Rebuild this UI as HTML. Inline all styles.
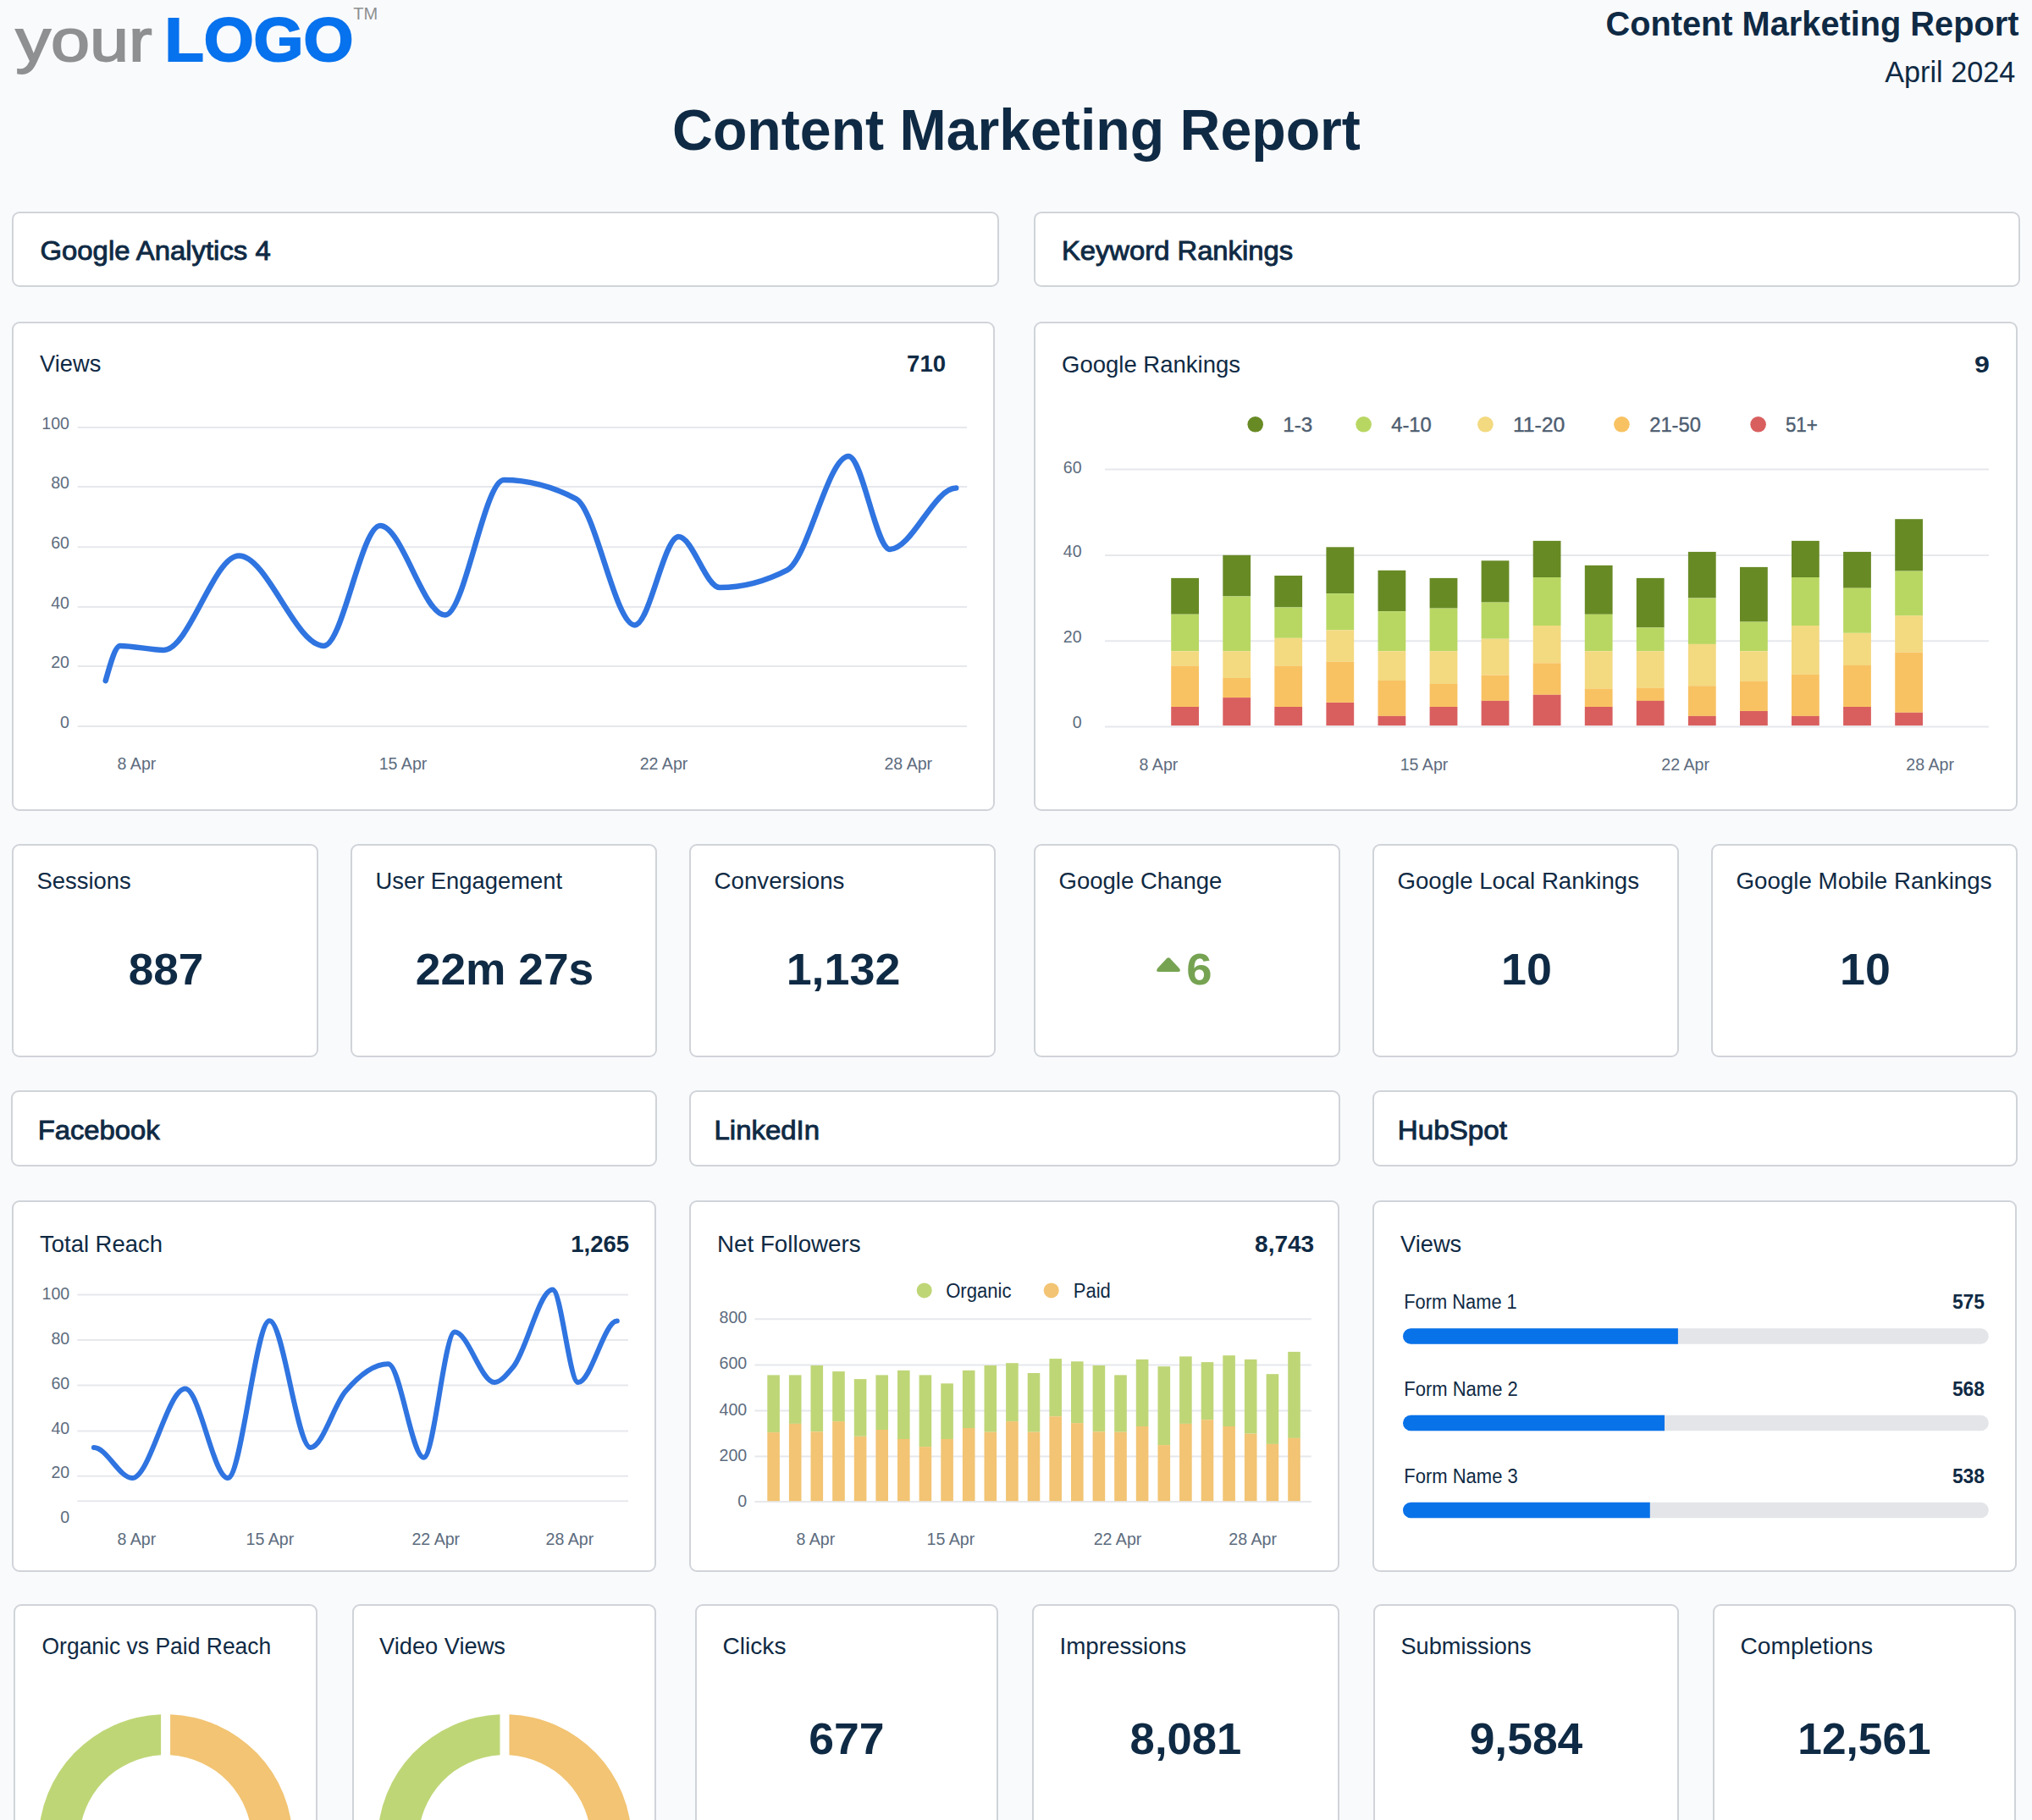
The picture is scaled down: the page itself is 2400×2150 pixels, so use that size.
<!DOCTYPE html>
<html><head><meta charset="utf-8"><style>
html,body{margin:0;padding:0;}
body{width:2400px;height:2150px;overflow:hidden;background:#f9fafc;position:relative;font-family:"Liberation Sans",sans-serif;}
.c{position:absolute;box-sizing:border-box;background:#fff;border:2px solid #d0d4d9;border-radius:9px;}
svg{position:absolute;left:0;top:0;}
svg text{font-family:"Liberation Sans",sans-serif;}
</style></head><body>
<div class="c" style="left:14px;top:250px;width:1166px;height:89px"></div><div class="c" style="left:1221px;top:250px;width:1165px;height:89px"></div><div class="c" style="left:14px;top:380px;width:1161px;height:578px"></div><div class="c" style="left:1221px;top:380px;width:1162px;height:578px"></div><div class="c" style="left:14px;top:997px;width:362px;height:252px"></div><div class="c" style="left:414px;top:997px;width:362px;height:252px"></div><div class="c" style="left:814px;top:997px;width:362px;height:252px"></div><div class="c" style="left:1221px;top:997px;width:362px;height:252px"></div><div class="c" style="left:1621px;top:997px;width:362px;height:252px"></div><div class="c" style="left:2021px;top:997px;width:362px;height:252px"></div><div class="c" style="left:13px;top:1288px;width:763px;height:90px"></div><div class="c" style="left:814px;top:1288px;width:769px;height:90px"></div><div class="c" style="left:1621px;top:1288px;width:762px;height:90px"></div><div class="c" style="left:14px;top:1418px;width:761px;height:439px"></div><div class="c" style="left:814px;top:1418px;width:768px;height:439px"></div><div class="c" style="left:1621px;top:1418px;width:761px;height:439px"></div><div class="c" style="left:16px;top:1895px;width:359px;height:305px"></div><div class="c" style="left:416px;top:1895px;width:359px;height:305px"></div><div class="c" style="left:821px;top:1895px;width:358px;height:305px"></div><div class="c" style="left:1219px;top:1895px;width:363px;height:305px"></div><div class="c" style="left:1622px;top:1895px;width:361px;height:305px"></div><div class="c" style="left:2023px;top:1895px;width:358px;height:305px"></div>
<svg width="2400" height="2150" viewBox="0 0 2400 2150">
<text x="18.5" y="72.0" font-size="71" font-weight="normal" fill="#8e9091" text-anchor="start" textLength="161.0" lengthAdjust="spacingAndGlyphs" stroke="#8e9091" stroke-width="1.8">your</text>
<text x="194.4" y="72.2" font-size="73" font-weight="bold" fill="#0772ed" text-anchor="start" textLength="223.1" lengthAdjust="spacingAndGlyphs" stroke="#0772ed" stroke-width="2">LOGO</text>
<text x="417.3" y="23.0" font-size="20" font-weight="normal" fill="#8e9091" text-anchor="start" textLength="28.9" lengthAdjust="spacingAndGlyphs">TM</text>
<text x="2384.4" y="42.2" font-size="41" font-weight="bold" fill="#0f2a44" text-anchor="end" textLength="487.9" lengthAdjust="spacingAndGlyphs">Content Marketing Report</text>
<text x="2380.2" y="96.7" font-size="34.4" font-weight="normal" fill="#0f2a44" text-anchor="end" textLength="153.9" lengthAdjust="spacingAndGlyphs">April 2024</text>
<text x="794.1" y="176.5" font-size="68" font-weight="bold" fill="#0f2a44" text-anchor="start" textLength="812.8" lengthAdjust="spacingAndGlyphs">Content Marketing Report</text>
<text x="47.5" y="307.0" font-size="31.7" font-weight="normal" fill="#0f2a44" text-anchor="start" textLength="272.2" lengthAdjust="spacingAndGlyphs" stroke="#0f2a44" stroke-width="0.9">Google Analytics 4</text>
<text x="1253.9" y="307.0" font-size="31.7" font-weight="normal" fill="#0f2a44" text-anchor="start" textLength="273.2" lengthAdjust="spacingAndGlyphs" stroke="#0f2a44" stroke-width="0.9">Keyword Rankings</text>
<text x="44.7" y="1346.3" font-size="31.7" font-weight="normal" fill="#0f2a44" text-anchor="start" textLength="144.0" lengthAdjust="spacingAndGlyphs" stroke="#0f2a44" stroke-width="0.9">Facebook</text>
<text x="843.5" y="1346.3" font-size="31.7" font-weight="normal" fill="#0f2a44" text-anchor="start" textLength="124.6" lengthAdjust="spacingAndGlyphs" stroke="#0f2a44" stroke-width="0.9">LinkedIn</text>
<text x="1650.8" y="1346.3" font-size="31.7" font-weight="normal" fill="#0f2a44" text-anchor="start" textLength="129.1" lengthAdjust="spacingAndGlyphs" stroke="#0f2a44" stroke-width="0.9">HubSpot</text>
<text x="47.1" y="439.1" font-size="28" font-weight="normal" fill="#0f2a44" text-anchor="start" textLength="72.2" lengthAdjust="spacingAndGlyphs">Views</text>
<text x="1117.0" y="439.0" font-size="27.5" font-weight="bold" fill="#0f2a44" text-anchor="end" textLength="45.9" lengthAdjust="spacingAndGlyphs">710</text>
<line x1="91.7" y1="858" x2="1142" y2="858" stroke="#e6e8ec" stroke-width="2"/>
<text x="82.0" y="859.5" font-size="19.6" font-weight="normal" fill="#5d6c7e" text-anchor="end">0</text>
<line x1="91.7" y1="787.1" x2="1142" y2="787.1" stroke="#e6e8ec" stroke-width="2"/>
<text x="82.0" y="788.6" font-size="19.6" font-weight="normal" fill="#5d6c7e" text-anchor="end">20</text>
<line x1="91.7" y1="717.1" x2="1142" y2="717.1" stroke="#e6e8ec" stroke-width="2"/>
<text x="82.0" y="718.6" font-size="19.6" font-weight="normal" fill="#5d6c7e" text-anchor="end">40</text>
<line x1="91.7" y1="646.2" x2="1142" y2="646.2" stroke="#e6e8ec" stroke-width="2"/>
<text x="82.0" y="647.7" font-size="19.6" font-weight="normal" fill="#5d6c7e" text-anchor="end">60</text>
<line x1="91.7" y1="575.1" x2="1142" y2="575.1" stroke="#e6e8ec" stroke-width="2"/>
<text x="82.0" y="576.6" font-size="19.6" font-weight="normal" fill="#5d6c7e" text-anchor="end">80</text>
<line x1="91.7" y1="505.1" x2="1142" y2="505.1" stroke="#e6e8ec" stroke-width="2"/>
<text x="82.0" y="506.6" font-size="19.6" font-weight="normal" fill="#5d6c7e" text-anchor="end">100</text>
<text x="161.5" y="908.7" font-size="19.6" font-weight="normal" fill="#5d6c7e" text-anchor="middle">8 Apr</text>
<text x="476.0" y="908.7" font-size="19.6" font-weight="normal" fill="#5d6c7e" text-anchor="middle">15 Apr</text>
<text x="784.0" y="908.7" font-size="19.6" font-weight="normal" fill="#5d6c7e" text-anchor="middle">22 Apr</text>
<text x="1072.8" y="908.7" font-size="19.6" font-weight="normal" fill="#5d6c7e" text-anchor="middle">28 Apr</text>
<path d="M124.7,804.2 C130.4,783.5 136.2,762.9 141.9,762.9 C159.1,762.9 176.3,767.9 193.5,767.9 C223.0,767.9 252.6,656.6 282.1,656.6 C315.6,656.6 349.0,762.9 382.5,762.9 C404.7,762.9 426.8,621.1 449.0,621.1 C474.6,621.1 500.1,726.6 525.7,726.6 C548.8,726.6 572.0,567.1 595.1,567.1 C623.5,567.1 652.0,574.5 680.4,589.3 C703.5,601.3 726.7,738.4 749.8,738.4 C767.0,738.4 784.3,634.1 801.5,634.1 C817.7,634.1 834.0,694.1 850.2,694.1 C876.8,694.1 903.3,687.2 929.9,673.4 C954.0,660.9 978.1,539.0 1002.2,539.0 C1018.5,539.0 1034.7,648.9 1051.0,648.9 C1077.1,648.9 1103.1,576.6 1129.2,576.6" fill="none" stroke="#2f74e0" stroke-width="6.5" stroke-linecap="round" stroke-linejoin="round"/>
<text x="1254.0" y="439.5" font-size="28" font-weight="normal" fill="#0f2a44" text-anchor="start" textLength="211.0" lengthAdjust="spacingAndGlyphs">Google Rankings</text>
<text x="2350.0" y="439.5" font-size="27.5" font-weight="bold" fill="#0f2a44" text-anchor="end" textLength="17.9" lengthAdjust="spacingAndGlyphs">9</text>
<line x1="1305" y1="858.5" x2="2349" y2="858.5" stroke="#e6e8ec" stroke-width="2"/>
<text x="1277.6" y="859.5" font-size="19.6" font-weight="normal" fill="#5d6c7e" text-anchor="end">0</text>
<line x1="1305" y1="757.2" x2="2349" y2="757.2" stroke="#e6e8ec" stroke-width="2"/>
<text x="1277.6" y="758.8" font-size="19.6" font-weight="normal" fill="#5d6c7e" text-anchor="end">20</text>
<line x1="1305" y1="655.9" x2="2349" y2="655.9" stroke="#e6e8ec" stroke-width="2"/>
<text x="1277.6" y="657.8" font-size="19.6" font-weight="normal" fill="#5d6c7e" text-anchor="end">40</text>
<line x1="1305" y1="554.6" x2="2349" y2="554.6" stroke="#e6e8ec" stroke-width="2"/>
<text x="1277.6" y="558.8" font-size="19.6" font-weight="normal" fill="#5d6c7e" text-anchor="end">60</text>
<text x="1368.5" y="909.5" font-size="19.6" font-weight="normal" fill="#5d6c7e" text-anchor="middle">8 Apr</text>
<text x="1682.0" y="909.5" font-size="19.6" font-weight="normal" fill="#5d6c7e" text-anchor="middle">15 Apr</text>
<text x="1990.6" y="909.5" font-size="19.6" font-weight="normal" fill="#5d6c7e" text-anchor="middle">22 Apr</text>
<text x="2279.7" y="909.5" font-size="19.6" font-weight="normal" fill="#5d6c7e" text-anchor="middle">28 Apr</text>
<circle cx="1482.7" cy="501.3" r="9.3" fill="#688a25"/>
<text x="1515.2" y="509.5" font-size="23.5" font-weight="normal" fill="#4e5e71" text-anchor="start" textLength="35.0" lengthAdjust="spacingAndGlyphs" stroke="#4e5e71" stroke-width="0.4">1-3</text>
<circle cx="1610.6" cy="501.3" r="9.3" fill="#b8d762"/>
<text x="1643.2" y="509.5" font-size="23.5" font-weight="normal" fill="#4e5e71" text-anchor="start" textLength="47.6" lengthAdjust="spacingAndGlyphs" stroke="#4e5e71" stroke-width="0.4">4-10</text>
<circle cx="1754.4" cy="501.3" r="9.3" fill="#f3d980"/>
<text x="1786.9" y="509.5" font-size="23.5" font-weight="normal" fill="#4e5e71" text-anchor="start" textLength="61.5" lengthAdjust="spacingAndGlyphs" stroke="#4e5e71" stroke-width="0.4">11-20</text>
<circle cx="1915.4" cy="501.3" r="9.3" fill="#f8c262"/>
<text x="1948.2" y="509.5" font-size="23.5" font-weight="normal" fill="#4e5e71" text-anchor="start" textLength="60.7" lengthAdjust="spacingAndGlyphs" stroke="#4e5e71" stroke-width="0.4">21-50</text>
<circle cx="2076.6" cy="501.3" r="9.3" fill="#d95f5f"/>
<text x="2108.9" y="509.5" font-size="23.5" font-weight="normal" fill="#4e5e71" text-anchor="start" textLength="37.9" lengthAdjust="spacingAndGlyphs" stroke="#4e5e71" stroke-width="0.4">51+</text>
<rect x="1383.2" y="682.9" width="32.8" height="42.8" fill="#688a25"/>
<rect x="1383.2" y="725.7" width="32.8" height="43.4" fill="#b8d762"/>
<rect x="1383.2" y="769.2" width="32.8" height="17.7" fill="#f3d980"/>
<rect x="1383.2" y="786.9" width="32.8" height="48.1" fill="#f8c262"/>
<rect x="1383.2" y="835.0" width="32.8" height="22.1" fill="#d95f5f"/>
<rect x="1444.3" y="655.8" width="32.8" height="48.7" fill="#688a25"/>
<rect x="1444.3" y="704.5" width="32.8" height="64.7" fill="#b8d762"/>
<rect x="1444.3" y="769.2" width="32.8" height="31.9" fill="#f3d980"/>
<rect x="1444.3" y="801.0" width="32.8" height="23.0" fill="#f8c262"/>
<rect x="1444.3" y="824.1" width="32.8" height="33.0" fill="#d95f5f"/>
<rect x="1505.3" y="680.0" width="32.8" height="37.5" fill="#688a25"/>
<rect x="1505.3" y="717.5" width="32.8" height="36.3" fill="#b8d762"/>
<rect x="1505.3" y="753.8" width="32.8" height="33.1" fill="#f3d980"/>
<rect x="1505.3" y="786.9" width="32.8" height="48.1" fill="#f8c262"/>
<rect x="1505.3" y="835.0" width="32.8" height="22.1" fill="#d95f5f"/>
<rect x="1566.4" y="646.3" width="32.8" height="54.9" fill="#688a25"/>
<rect x="1566.4" y="701.2" width="32.8" height="43.1" fill="#b8d762"/>
<rect x="1566.4" y="744.3" width="32.8" height="37.5" fill="#f3d980"/>
<rect x="1566.4" y="781.8" width="32.8" height="48.1" fill="#f8c262"/>
<rect x="1566.4" y="830.0" width="32.8" height="27.1" fill="#d95f5f"/>
<rect x="1627.5" y="673.8" width="32.8" height="48.4" fill="#688a25"/>
<rect x="1627.5" y="722.2" width="32.8" height="46.9" fill="#b8d762"/>
<rect x="1627.5" y="769.2" width="32.8" height="34.8" fill="#f3d980"/>
<rect x="1627.5" y="804.0" width="32.8" height="41.9" fill="#f8c262"/>
<rect x="1627.5" y="845.9" width="32.8" height="11.2" fill="#d95f5f"/>
<rect x="1688.6" y="682.9" width="32.8" height="35.7" fill="#688a25"/>
<rect x="1688.6" y="718.7" width="32.8" height="50.5" fill="#b8d762"/>
<rect x="1688.6" y="769.2" width="32.8" height="38.7" fill="#f3d980"/>
<rect x="1688.6" y="807.8" width="32.8" height="27.2" fill="#f8c262"/>
<rect x="1688.6" y="835.0" width="32.8" height="22.1" fill="#d95f5f"/>
<rect x="1749.6" y="662.3" width="32.8" height="49.3" fill="#688a25"/>
<rect x="1749.6" y="711.6" width="32.8" height="43.1" fill="#b8d762"/>
<rect x="1749.6" y="754.7" width="32.8" height="42.8" fill="#f3d980"/>
<rect x="1749.6" y="797.5" width="32.8" height="30.4" fill="#f8c262"/>
<rect x="1749.6" y="827.9" width="32.8" height="29.2" fill="#d95f5f"/>
<rect x="1810.7" y="638.9" width="32.8" height="43.1" fill="#688a25"/>
<rect x="1810.7" y="682.0" width="32.8" height="57.0" fill="#b8d762"/>
<rect x="1810.7" y="739.0" width="32.8" height="44.3" fill="#f3d980"/>
<rect x="1810.7" y="783.3" width="32.8" height="37.5" fill="#f8c262"/>
<rect x="1810.7" y="820.8" width="32.8" height="36.3" fill="#d95f5f"/>
<rect x="1871.8" y="667.9" width="32.8" height="57.9" fill="#688a25"/>
<rect x="1871.8" y="725.7" width="32.8" height="43.4" fill="#b8d762"/>
<rect x="1871.8" y="769.2" width="32.8" height="44.6" fill="#f3d980"/>
<rect x="1871.8" y="813.7" width="32.8" height="21.3" fill="#f8c262"/>
<rect x="1871.8" y="835.0" width="32.8" height="22.1" fill="#d95f5f"/>
<rect x="1932.8" y="682.9" width="32.8" height="58.5" fill="#688a25"/>
<rect x="1932.8" y="741.4" width="32.8" height="27.8" fill="#b8d762"/>
<rect x="1932.8" y="769.2" width="32.8" height="43.7" fill="#f3d980"/>
<rect x="1932.8" y="812.9" width="32.8" height="15.1" fill="#f8c262"/>
<rect x="1932.8" y="827.9" width="32.8" height="29.2" fill="#d95f5f"/>
<rect x="1993.9" y="651.9" width="32.8" height="54.6" fill="#688a25"/>
<rect x="1993.9" y="706.6" width="32.8" height="54.3" fill="#b8d762"/>
<rect x="1993.9" y="760.9" width="32.8" height="49.3" fill="#f3d980"/>
<rect x="1993.9" y="810.2" width="32.8" height="35.7" fill="#f8c262"/>
<rect x="1993.9" y="845.9" width="32.8" height="11.2" fill="#d95f5f"/>
<rect x="2055.0" y="669.9" width="32.8" height="64.7" fill="#688a25"/>
<rect x="2055.0" y="734.6" width="32.8" height="34.5" fill="#b8d762"/>
<rect x="2055.0" y="769.2" width="32.8" height="35.7" fill="#f3d980"/>
<rect x="2055.0" y="804.9" width="32.8" height="35.1" fill="#f8c262"/>
<rect x="2055.0" y="840.0" width="32.8" height="17.1" fill="#d95f5f"/>
<rect x="2116.0" y="638.9" width="32.8" height="43.1" fill="#688a25"/>
<rect x="2116.0" y="682.0" width="32.8" height="57.0" fill="#b8d762"/>
<rect x="2116.0" y="739.0" width="32.8" height="57.9" fill="#f3d980"/>
<rect x="2116.0" y="796.9" width="32.8" height="49.0" fill="#f8c262"/>
<rect x="2116.0" y="845.9" width="32.8" height="11.2" fill="#d95f5f"/>
<rect x="2177.1" y="651.9" width="32.8" height="42.8" fill="#688a25"/>
<rect x="2177.1" y="694.7" width="32.8" height="53.1" fill="#b8d762"/>
<rect x="2177.1" y="747.9" width="32.8" height="38.1" fill="#f3d980"/>
<rect x="2177.1" y="786.0" width="32.8" height="49.0" fill="#f8c262"/>
<rect x="2177.1" y="835.0" width="32.8" height="22.1" fill="#d95f5f"/>
<rect x="2238.2" y="613.2" width="32.8" height="61.4" fill="#688a25"/>
<rect x="2238.2" y="674.7" width="32.8" height="52.6" fill="#b8d762"/>
<rect x="2238.2" y="727.2" width="32.8" height="43.4" fill="#f3d980"/>
<rect x="2238.2" y="770.6" width="32.8" height="71.2" fill="#f8c262"/>
<rect x="2238.2" y="841.8" width="32.8" height="15.3" fill="#d95f5f"/>
<text x="43.5" y="1049.6" font-size="28" font-weight="normal" fill="#0f2a44" text-anchor="start" textLength="111.3" lengthAdjust="spacingAndGlyphs">Sessions</text>
<text x="196.0" y="1163.0" font-size="52.6" font-weight="bold" fill="#0f2a44" text-anchor="middle" textLength="88.7" lengthAdjust="spacingAndGlyphs">887</text>
<text x="443.5" y="1049.6" font-size="28" font-weight="normal" fill="#0f2a44" text-anchor="start" textLength="220.5" lengthAdjust="spacingAndGlyphs">User Engagement</text>
<text x="596.0" y="1163.0" font-size="52.6" font-weight="bold" fill="#0f2a44" text-anchor="middle" textLength="210.5" lengthAdjust="spacingAndGlyphs">22m 27s</text>
<text x="843.5" y="1049.6" font-size="28" font-weight="normal" fill="#0f2a44" text-anchor="start" textLength="153.9" lengthAdjust="spacingAndGlyphs">Conversions</text>
<text x="996.0" y="1163.0" font-size="52.6" font-weight="bold" fill="#0f2a44" text-anchor="middle" textLength="134.7" lengthAdjust="spacingAndGlyphs">1,132</text>
<text x="1250.5" y="1049.6" font-size="28" font-weight="normal" fill="#0f2a44" text-anchor="start" textLength="192.8" lengthAdjust="spacingAndGlyphs">Google Change</text>
<text x="1650.5" y="1049.6" font-size="28" font-weight="normal" fill="#0f2a44" text-anchor="start" textLength="285.5" lengthAdjust="spacingAndGlyphs">Google Local Rankings</text>
<text x="1803.0" y="1163.0" font-size="52.6" font-weight="bold" fill="#0f2a44" text-anchor="middle" textLength="59.9" lengthAdjust="spacingAndGlyphs">10</text>
<text x="2050.5" y="1049.6" font-size="28" font-weight="normal" fill="#0f2a44" text-anchor="start" textLength="302.0" lengthAdjust="spacingAndGlyphs">Google Mobile Rankings</text>
<text x="2203.0" y="1163.0" font-size="52.6" font-weight="bold" fill="#0f2a44" text-anchor="middle" textLength="59.8" lengthAdjust="spacingAndGlyphs">10</text>
<path d="M1378,1132.2 Q1380,1130.4 1382,1132.2 L1392.5,1143.5 Q1396,1148 1391,1148 L1369,1148 Q1364,1148 1367.5,1143.5 L1378,1132.2 Z" fill="#76a352"/>
<text x="1401.3" y="1163.0" font-size="52.6" font-weight="bold" fill="#76a352" text-anchor="start" textLength="30.3" lengthAdjust="spacingAndGlyphs">6</text>
<text x="47.0" y="1478.7" font-size="28" font-weight="normal" fill="#0f2a44" text-anchor="start" textLength="145.0" lengthAdjust="spacingAndGlyphs">Total Reach</text>
<text x="743.1" y="1478.7" font-size="27.5" font-weight="bold" fill="#0f2a44" text-anchor="end" textLength="68.9" lengthAdjust="spacingAndGlyphs">1,265</text>
<line x1="91.3" y1="1529.5" x2="742" y2="1529.5" stroke="#e6e8ec" stroke-width="2"/>
<line x1="91.3" y1="1583" x2="742" y2="1583" stroke="#e6e8ec" stroke-width="2"/>
<line x1="91.3" y1="1636.6" x2="742" y2="1636.6" stroke="#e6e8ec" stroke-width="2"/>
<line x1="91.3" y1="1690.6" x2="742" y2="1690.6" stroke="#e6e8ec" stroke-width="2"/>
<line x1="91.3" y1="1743.7" x2="742" y2="1743.7" stroke="#e6e8ec" stroke-width="2"/>
<line x1="91.3" y1="1773.2" x2="742" y2="1773.2" stroke="#e6e8ec" stroke-width="2"/>
<text x="82.2" y="1535.0" font-size="19.6" font-weight="normal" fill="#5d6c7e" text-anchor="end">100</text>
<text x="82.2" y="1588.0" font-size="19.6" font-weight="normal" fill="#5d6c7e" text-anchor="end">80</text>
<text x="82.2" y="1641.3" font-size="19.6" font-weight="normal" fill="#5d6c7e" text-anchor="end">60</text>
<text x="82.2" y="1694.4" font-size="19.6" font-weight="normal" fill="#5d6c7e" text-anchor="end">40</text>
<text x="82.2" y="1746.4" font-size="19.6" font-weight="normal" fill="#5d6c7e" text-anchor="end">20</text>
<text x="82.2" y="1798.7" font-size="19.6" font-weight="normal" fill="#5d6c7e" text-anchor="end">0</text>
<text x="161.4" y="1824.5" font-size="19.6" font-weight="normal" fill="#5d6c7e" text-anchor="middle">8 Apr</text>
<text x="318.9" y="1824.5" font-size="19.6" font-weight="normal" fill="#5d6c7e" text-anchor="middle">15 Apr</text>
<text x="514.8" y="1824.5" font-size="19.6" font-weight="normal" fill="#5d6c7e" text-anchor="middle">22 Apr</text>
<text x="672.9" y="1824.5" font-size="19.6" font-weight="normal" fill="#5d6c7e" text-anchor="middle">28 Apr</text>
<path d="M110.9,1710.0 C126.0,1710.0 141.0,1746.0 156.1,1746.0 C177.0,1746.0 197.9,1640.6 218.8,1640.6 C235.5,1640.6 252.3,1746.0 269.0,1746.0 C285.5,1746.0 301.9,1560.2 318.4,1560.2 C334.6,1560.2 350.7,1710.0 366.9,1710.0 C380.6,1710.0 394.2,1660.0 407.9,1643.9 C424.8,1624.0 441.6,1611.3 458.5,1611.3 C472.5,1611.3 486.4,1721.7 500.4,1721.7 C512.7,1721.7 524.9,1573.6 537.2,1573.6 C552.8,1573.6 568.4,1633.0 584.0,1633.0 C591.4,1633.0 598.9,1623.5 606.3,1614.6 C621.7,1596.1 637.2,1523.4 652.6,1523.4 C662.7,1523.4 672.7,1633.0 682.8,1633.0 C698.1,1633.0 713.5,1560.6 728.8,1560.6" fill="none" stroke="#2f74e0" stroke-width="6" stroke-linecap="round" stroke-linejoin="round"/>
<text x="847.0" y="1478.7" font-size="28" font-weight="normal" fill="#0f2a44" text-anchor="start" textLength="169.7" lengthAdjust="spacingAndGlyphs">Net Followers</text>
<text x="1552.2" y="1478.7" font-size="27.5" font-weight="bold" fill="#0f2a44" text-anchor="end" textLength="70.1" lengthAdjust="spacingAndGlyphs">8,743</text>
<line x1="891.3" y1="1558.3" x2="1548.8" y2="1558.3" stroke="#e6e8ec" stroke-width="2"/>
<line x1="891.3" y1="1612.6" x2="1548.8" y2="1612.6" stroke="#e6e8ec" stroke-width="2"/>
<line x1="891.3" y1="1666.5" x2="1548.8" y2="1666.5" stroke="#e6e8ec" stroke-width="2"/>
<line x1="891.3" y1="1720.5" x2="1548.8" y2="1720.5" stroke="#e6e8ec" stroke-width="2"/>
<line x1="891.3" y1="1774" x2="1548.8" y2="1774" stroke="#e6e8ec" stroke-width="2"/>
<text x="882.2" y="1563.0" font-size="19.6" font-weight="normal" fill="#5d6c7e" text-anchor="end">800</text>
<text x="882.2" y="1617.0" font-size="19.6" font-weight="normal" fill="#5d6c7e" text-anchor="end">600</text>
<text x="882.2" y="1671.6" font-size="19.6" font-weight="normal" fill="#5d6c7e" text-anchor="end">400</text>
<text x="882.2" y="1726.0" font-size="19.6" font-weight="normal" fill="#5d6c7e" text-anchor="end">200</text>
<text x="882.2" y="1779.8" font-size="19.6" font-weight="normal" fill="#5d6c7e" text-anchor="end">0</text>
<text x="963.4" y="1824.5" font-size="19.6" font-weight="normal" fill="#5d6c7e" text-anchor="middle">8 Apr</text>
<text x="1122.9" y="1824.5" font-size="19.6" font-weight="normal" fill="#5d6c7e" text-anchor="middle">15 Apr</text>
<text x="1320.0" y="1824.5" font-size="19.6" font-weight="normal" fill="#5d6c7e" text-anchor="middle">22 Apr</text>
<text x="1479.7" y="1824.5" font-size="19.6" font-weight="normal" fill="#5d6c7e" text-anchor="middle">28 Apr</text>
<circle cx="1091.7" cy="1524.4" r="9" fill="#bfd677"/>
<circle cx="1241.7" cy="1524.4" r="9" fill="#f2c473"/>
<text x="1117.2" y="1532.8" font-size="23.5" font-weight="normal" fill="#0f2a44" text-anchor="start" textLength="77.3" lengthAdjust="spacingAndGlyphs">Organic</text>
<text x="1267.7" y="1532.8" font-size="23.5" font-weight="normal" fill="#0f2a44" text-anchor="start" textLength="44.1" lengthAdjust="spacingAndGlyphs">Paid</text>
<rect x="906.3" y="1624.4" width="14.6" height="67.7" fill="#bfd677"/>
<rect x="906.3" y="1692.1" width="14.6" height="81.1" fill="#f2c473"/>
<rect x="931.9" y="1624.4" width="14.6" height="57.5" fill="#bfd677"/>
<rect x="931.9" y="1681.9" width="14.6" height="91.3" fill="#f2c473"/>
<rect x="957.5" y="1613.0" width="14.6" height="78.3" fill="#bfd677"/>
<rect x="957.5" y="1691.3" width="14.6" height="81.9" fill="#f2c473"/>
<rect x="983.2" y="1620.1" width="14.6" height="59.1" fill="#bfd677"/>
<rect x="983.2" y="1679.1" width="14.6" height="94.1" fill="#f2c473"/>
<rect x="1008.8" y="1629.1" width="14.6" height="67.7" fill="#bfd677"/>
<rect x="1008.8" y="1696.9" width="14.6" height="76.3" fill="#f2c473"/>
<rect x="1034.4" y="1624.4" width="14.6" height="64.6" fill="#bfd677"/>
<rect x="1034.4" y="1689.0" width="14.6" height="84.2" fill="#f2c473"/>
<rect x="1060.0" y="1618.9" width="14.6" height="81.1" fill="#bfd677"/>
<rect x="1060.0" y="1700.0" width="14.6" height="73.2" fill="#f2c473"/>
<rect x="1085.6" y="1624.4" width="14.6" height="84.6" fill="#bfd677"/>
<rect x="1085.6" y="1709.1" width="14.6" height="64.1" fill="#f2c473"/>
<rect x="1111.3" y="1634.3" width="14.6" height="65.7" fill="#bfd677"/>
<rect x="1111.3" y="1700.0" width="14.6" height="73.2" fill="#f2c473"/>
<rect x="1136.9" y="1618.9" width="14.6" height="68.1" fill="#bfd677"/>
<rect x="1136.9" y="1687.0" width="14.6" height="86.2" fill="#f2c473"/>
<rect x="1162.5" y="1613.0" width="14.6" height="78.7" fill="#bfd677"/>
<rect x="1162.5" y="1691.7" width="14.6" height="81.5" fill="#f2c473"/>
<rect x="1188.1" y="1610.2" width="14.6" height="68.9" fill="#bfd677"/>
<rect x="1188.1" y="1679.1" width="14.6" height="94.1" fill="#f2c473"/>
<rect x="1213.7" y="1622.0" width="14.6" height="69.7" fill="#bfd677"/>
<rect x="1213.7" y="1691.7" width="14.6" height="81.5" fill="#f2c473"/>
<rect x="1239.4" y="1605.1" width="14.6" height="68.1" fill="#bfd677"/>
<rect x="1239.4" y="1673.2" width="14.6" height="100.0" fill="#f2c473"/>
<rect x="1265.0" y="1608.3" width="14.6" height="72.8" fill="#bfd677"/>
<rect x="1265.0" y="1681.1" width="14.6" height="92.1" fill="#f2c473"/>
<rect x="1290.6" y="1613.0" width="14.6" height="78.3" fill="#bfd677"/>
<rect x="1290.6" y="1691.3" width="14.6" height="81.9" fill="#f2c473"/>
<rect x="1316.2" y="1624.4" width="14.6" height="67.3" fill="#bfd677"/>
<rect x="1316.2" y="1691.7" width="14.6" height="81.5" fill="#f2c473"/>
<rect x="1341.8" y="1605.9" width="14.6" height="79.1" fill="#bfd677"/>
<rect x="1341.8" y="1685.0" width="14.6" height="88.2" fill="#f2c473"/>
<rect x="1367.5" y="1614.2" width="14.6" height="92.9" fill="#bfd677"/>
<rect x="1367.5" y="1707.1" width="14.6" height="66.1" fill="#f2c473"/>
<rect x="1393.1" y="1602.4" width="14.6" height="79.5" fill="#bfd677"/>
<rect x="1393.1" y="1681.9" width="14.6" height="91.3" fill="#f2c473"/>
<rect x="1418.7" y="1609.1" width="14.6" height="68.1" fill="#bfd677"/>
<rect x="1418.7" y="1677.2" width="14.6" height="96.0" fill="#f2c473"/>
<rect x="1444.3" y="1601.2" width="14.6" height="83.9" fill="#bfd677"/>
<rect x="1444.3" y="1685.0" width="14.6" height="88.2" fill="#f2c473"/>
<rect x="1469.9" y="1605.9" width="14.6" height="87.8" fill="#bfd677"/>
<rect x="1469.9" y="1693.7" width="14.6" height="79.5" fill="#f2c473"/>
<rect x="1495.6" y="1623.2" width="14.6" height="82.7" fill="#bfd677"/>
<rect x="1495.6" y="1705.9" width="14.6" height="67.3" fill="#f2c473"/>
<rect x="1521.2" y="1596.9" width="14.6" height="102.0" fill="#bfd677"/>
<rect x="1521.2" y="1698.8" width="14.6" height="74.4" fill="#f2c473"/>
<text x="1654.0" y="1478.7" font-size="28" font-weight="normal" fill="#0f2a44" text-anchor="start" textLength="72.2" lengthAdjust="spacingAndGlyphs">Views</text>
<text x="1658.2" y="1545.7" font-size="23" font-weight="normal" fill="#0f2a44" text-anchor="start" textLength="133.6" lengthAdjust="spacingAndGlyphs">Form Name 1</text>
<text x="2344.1" y="1545.7" font-size="23" font-weight="bold" fill="#0f2a44" text-anchor="end" textLength="38.2" lengthAdjust="spacingAndGlyphs">575</text>
<rect x="1657" y="1569.3" width="691.8000000000002" height="18.5" rx="9.25" fill="#e4e5e9"/>
<path d="M1981.9,1569.3 L1666.25,1569.3 A9.25,9.25 0 0 0 1666.25,1587.8 L1981.9,1587.8 Z" fill="#0872e9"/>
<text x="1658.2" y="1648.8" font-size="23" font-weight="normal" fill="#0f2a44" text-anchor="start" textLength="134.6" lengthAdjust="spacingAndGlyphs">Form Name 2</text>
<text x="2344.1" y="1648.8" font-size="23" font-weight="bold" fill="#0f2a44" text-anchor="end" textLength="38.2" lengthAdjust="spacingAndGlyphs">568</text>
<rect x="1657" y="1671.7" width="691.8000000000002" height="18.5" rx="9.25" fill="#e4e5e9"/>
<path d="M1966,1671.7 L1666.25,1671.7 A9.25,9.25 0 0 0 1666.25,1690.2 L1966,1690.2 Z" fill="#0872e9"/>
<text x="1658.2" y="1751.6" font-size="23" font-weight="normal" fill="#0f2a44" text-anchor="start" textLength="134.6" lengthAdjust="spacingAndGlyphs">Form Name 3</text>
<text x="2344.1" y="1751.6" font-size="23" font-weight="bold" fill="#0f2a44" text-anchor="end" textLength="38.2" lengthAdjust="spacingAndGlyphs">538</text>
<rect x="1657" y="1774.8" width="691.8000000000002" height="18.5" rx="9.25" fill="#e4e5e9"/>
<path d="M1948.8,1774.8 L1666.25,1774.8 A9.25,9.25 0 0 0 1666.25,1793.3 L1948.8,1793.3 Z" fill="#0872e9"/>
<text x="49.5" y="1954.0" font-size="28" font-weight="normal" fill="#0f2a44" text-anchor="start" textLength="270.8" lengthAdjust="spacingAndGlyphs">Organic vs Paid Reach</text>
<path d="M190.10,2025.30 A150,150 0 0 0 190.10,2325.10 L190.10,2277.05 A102,102 0 0 1 190.10,2073.35 Z" fill="#bfd677"/><path d="M201.10,2025.30 A150,150 0 0 1 201.10,2325.10 L201.10,2277.05 A102,102 0 0 0 201.10,2073.35 Z" fill="#f2c473"/>
<text x="448.0" y="1954.0" font-size="28" font-weight="normal" fill="#0f2a44" text-anchor="start" textLength="149.0" lengthAdjust="spacingAndGlyphs">Video Views</text>
<path d="M590.50,2025.30 A150,150 0 0 0 590.50,2325.10 L590.50,2277.05 A102,102 0 0 1 590.50,2073.35 Z" fill="#bfd677"/><path d="M601.50,2025.30 A150,150 0 0 1 601.50,2325.10 L601.50,2277.05 A102,102 0 0 0 601.50,2073.35 Z" fill="#f2c473"/>
<text x="853.5" y="1954.0" font-size="28" font-weight="normal" fill="#0f2a44" text-anchor="start" textLength="75.0" lengthAdjust="spacingAndGlyphs">Clicks</text>
<text x="1000.0" y="2071.5" font-size="52.6" font-weight="bold" fill="#0f2a44" text-anchor="middle" textLength="89.3" lengthAdjust="spacingAndGlyphs">677</text>
<text x="1251.5" y="1954.0" font-size="28" font-weight="normal" fill="#0f2a44" text-anchor="start" textLength="149.5" lengthAdjust="spacingAndGlyphs">Impressions</text>
<text x="1400.5" y="2071.5" font-size="52.6" font-weight="bold" fill="#0f2a44" text-anchor="middle" textLength="131.8" lengthAdjust="spacingAndGlyphs">8,081</text>
<text x="1654.5" y="1954.0" font-size="28" font-weight="normal" fill="#0f2a44" text-anchor="start" textLength="154.0" lengthAdjust="spacingAndGlyphs">Submissions</text>
<text x="1802.5" y="2071.5" font-size="52.6" font-weight="bold" fill="#0f2a44" text-anchor="middle" textLength="133.7" lengthAdjust="spacingAndGlyphs">9,584</text>
<text x="2055.5" y="1954.0" font-size="28" font-weight="normal" fill="#0f2a44" text-anchor="start" textLength="156.5" lengthAdjust="spacingAndGlyphs">Completions</text>
<text x="2202.0" y="2071.5" font-size="52.6" font-weight="bold" fill="#0f2a44" text-anchor="middle" textLength="157.3" lengthAdjust="spacingAndGlyphs">12,561</text>
</svg>
</body></html>
